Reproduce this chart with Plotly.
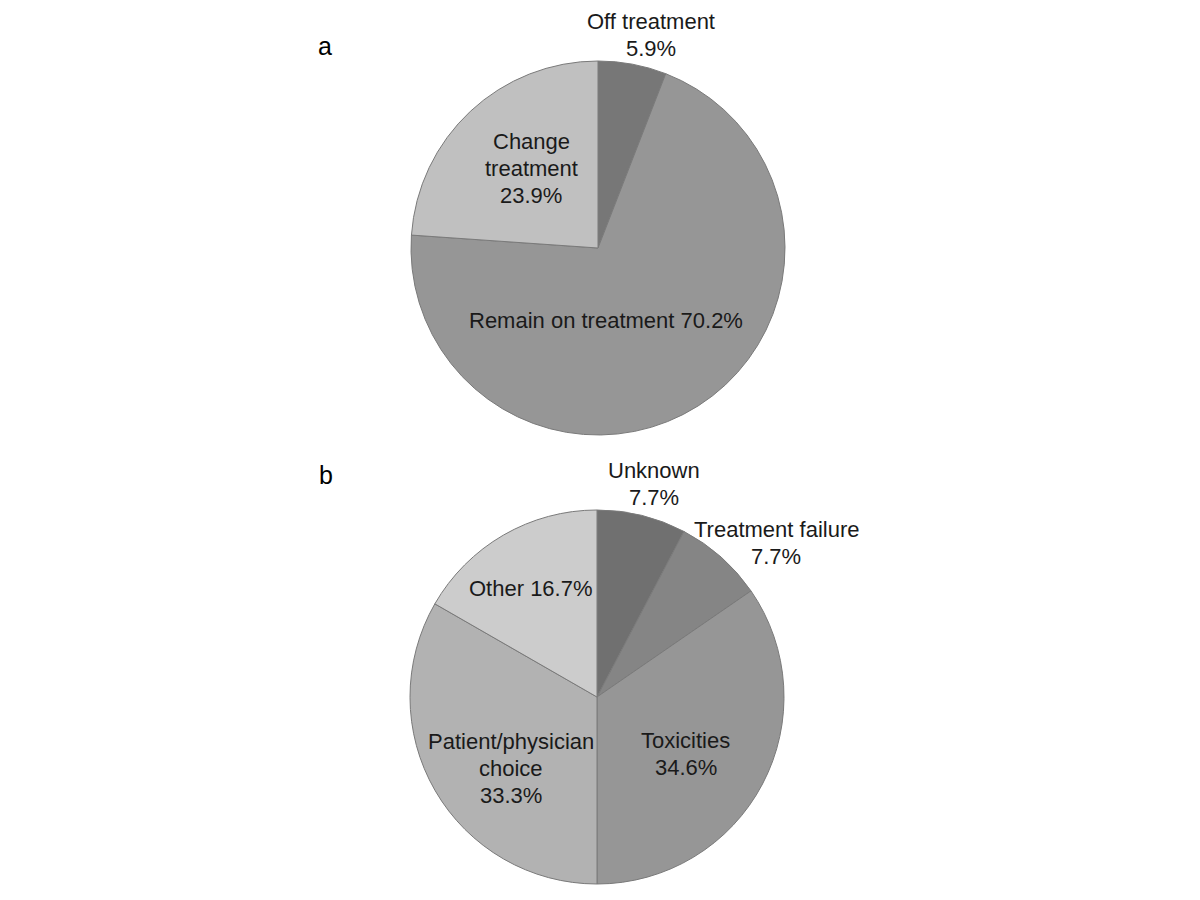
import plotly.graph_objects as go

# Panel a
a_labels = ["Off treatment", "Remain on treatment", "Change treatment"]
a_values = [5.9, 70.2, 23.9]
a_colors = ["#777777", "#969696", "#c0c0c0"]

# Panel b
b_labels = ["Unknown", "Treatment failure", "Toxicities", "Patient/physician choice", "Other"]
b_values = [7.7, 7.7, 34.6, 33.3, 16.7]
b_colors = ["#707070", "#858585", "#969696", "#b2b2b2", "#cccccc"]

W, H = 1200, 900
OFF = 8  # page body margin
FONT = "Liberation Sans, Arial, sans-serif"
LINE = 27


def px_dom(x0, x1, y0, y1):
    x0, x1, y0, y1 = x0 - OFF, x1 - OFF, y0 - OFF, y1 - OFF
    return dict(x=[x0 / W, x1 / W], y=[1 - y1 / H, 1 - y0 / H])


fig = go.Figure()
fig.add_trace(go.Pie(
    labels=a_labels, values=a_values, sort=False, direction="clockwise", rotation=0,
    marker=dict(colors=a_colors, line=dict(color="#7a7a7a", width=1)),
    textinfo="none", hoverinfo="label+percent", showlegend=False,
    domain=px_dom(411, 785, 61, 435),
))
fig.add_trace(go.Pie(
    labels=b_labels, values=b_values, sort=False, direction="clockwise", rotation=0,
    marker=dict(colors=b_colors, line=dict(color="#7a7a7a", width=1)),
    textinfo="none", hoverinfo="label+percent", showlegend=False,
    domain=px_dom(410, 784, 510, 884),
))

a_lines = [
    [a_labels[0], f"{a_values[0]}%"],
    [f"{a_labels[1]} {a_values[1]}%"],
    a_labels[2].split(" ") + [f"{a_values[2]}%"],
]
a_pos = [(651, 35), (606, 320), (531, 168)]

b_lines = [
    [b_labels[0], f"{b_values[0]}%"],
    [b_labels[1], f"{b_values[1]}%"],
    [b_labels[2], f"{b_values[2]}%"],
    b_labels[3].split(" ") + [f"{b_values[3]}%"],
    [f"{b_labels[4]} {b_values[4]}%"],
]
b_pos = [(654, 484), (776, 543), (686, 754), (511, 768), (531, 588)]

annotations = []
for lines, (x, yc) in list(zip(a_lines, a_pos)) + list(zip(b_lines, b_pos)):
    n = len(lines)
    for i, ln in enumerate(lines):
        y = yc + (i - (n - 1) / 2) * LINE
        annotations.append(dict(
            x=(x - OFF) / W, y=1 - (y - OFF) / H, xref="paper", yref="paper", text=ln,
            showarrow=False, xanchor="center", yanchor="middle", align="center",
            font=dict(family=FONT, size=22, color="#1a1a1a"),
        ))
for txt, (x, y) in [("a", (325, 46)), ("b", (326, 475))]:
    annotations.append(dict(
        x=(x - OFF) / W, y=1 - (y - OFF) / H, xref="paper", yref="paper", text=txt,
        showarrow=False, xanchor="center", yanchor="middle",
        font=dict(family=FONT, size=25, color="#000000"),
    ))

fig.update_layout(
    width=W, height=H, margin=dict(l=0, r=0, t=0, b=0),
    paper_bgcolor="white", plot_bgcolor="white",
    annotations=annotations,
)
fig.write_html("out.html")
